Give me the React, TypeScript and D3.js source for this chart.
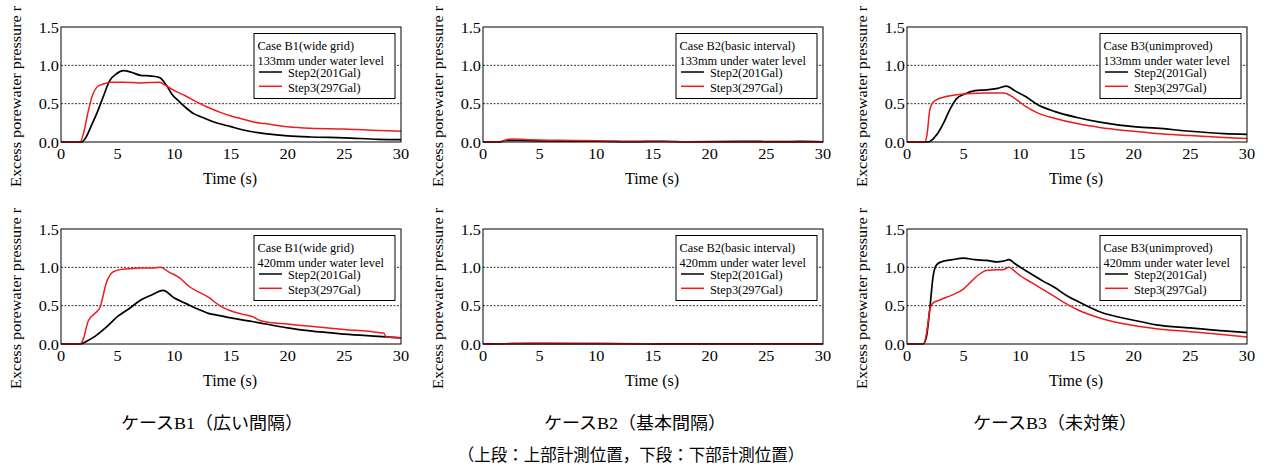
import React from "react";
import * as d3 from "d3";

// ---------- Data (time s, excess porewater pressure ratio) ----------
const xTicks = [0, 5, 10, 15, 20, 25, 30];
const yTicks = [0, 0.5, 1.0, 1.5];
const gridLevels = [0.5, 1.0];
const yTitle = "Excess porewater pressure r";
const seriesNames = ["Step2(201Gal)", "Step3(297Gal)"];
const seriesColors = ["#000000", "#ee1c1c"];
const caseTitles = ["Case B1(wide grid)", "Case B2(basic interval)", "Case B3(unimproved)"];
const depthLabels = ["133mm under water level", "420mm under water level"];
const captions = ["ケースB1（広い間隔）", "ケースB2（基本間隔）", "ケースB3（未対策）"];
const footnote = "（上段：上部計測位置，下段：下部計測位置）";

type Pt = [number, number];

const b1TopStep2: Pt[] = [
  [0, 0], [1.8, 0], [2.2, 0.06], [2.7, 0.22], [3.15, 0.37], [3.7, 0.58], [4.3, 0.8], [4.9, 0.89],
  [5.5, 0.93], [6.2, 0.91], [7, 0.87], [8, 0.86], [8.7, 0.84], [9.3, 0.74], [9.8, 0.62], [10.35, 0.54],
  [11, 0.45], [11.7, 0.37], [12.5, 0.32], [13.5, 0.26], [15, 0.2], [16, 0.16], [17, 0.13], [18, 0.11],
  [20, 0.08], [22, 0.065], [25, 0.055], [28, 0.035], [30, 0.03],
];
const b1TopStep3: Pt[] = [
  [0, 0], [1.68, 0], [2.0, 0.12], [2.4, 0.4], [2.8, 0.62], [3.2, 0.72], [3.8, 0.76], [4.4, 0.78],
  [5.5, 0.78], [7, 0.77], [8.7, 0.78], [9.2, 0.74], [10, 0.67], [11, 0.6], [12, 0.52], [13, 0.45],
  [14, 0.39], [15, 0.34], [16, 0.3], [17, 0.26], [18, 0.24], [20, 0.2], [22, 0.18], [25, 0.17],
  [28, 0.15], [30, 0.14],
];
const b1BotStep2: Pt[] = [
  [0, 0], [1.7, 0], [2.3, 0.04], [3, 0.1], [4, 0.22], [5, 0.36], [6, 0.46], [7, 0.57], [8, 0.64],
  [9, 0.7], [10, 0.6], [11, 0.53], [12, 0.46], [13, 0.4], [14, 0.37], [15, 0.34], [17, 0.29],
  [20, 0.21], [22, 0.17], [25, 0.13], [28, 0.1], [30, 0.08],
];
const b1BotStep3: Pt[] = [
  [0, 0], [1.7, 0], [2.0, 0.08], [2.4, 0.3], [3, 0.4], [3.45, 0.48], [4.0, 0.8], [4.6, 0.94],
  [5.2, 0.97], [6, 0.98], [7, 0.99], [8, 0.99], [8.8, 1.0], [9.5, 0.94], [10.5, 0.86], [11.3, 0.75],
  [12, 0.69], [13, 0.61], [14, 0.5], [15, 0.43], [16, 0.39], [17, 0.35], [17.5, 0.31], [18, 0.29],
  [20, 0.26], [22, 0.23], [25, 0.19], [28, 0.15], [28.5, 0.14], [28.7, 0.09], [30, 0.08],
];
const b2TopStep2: Pt[] = [
  [0, 0], [1.5, 0], [2, 0.02], [3, 0.02], [5, 0.015], [8, 0.01], [10, 0.01], [13, 0.005],
  [16, 0.01], [18, 0.003], [23, 0.01], [26, 0.004], [28, 0.008], [30, 0.003],
];
const b2TopStep3: Pt[] = [
  [0, 0], [1.1, 0], [1.8, 0.01], [2.2, 0.035], [2.6, 0.04], [3.2, 0.035], [5, 0.025], [8, 0.02],
  [10, 0.015], [12, 0.005], [15, 0.005], [20, 0.0], [25, 0.0], [30, 0.0],
];
const b2BotStep2: Pt[] = [
  [0, 0], [2, 0.003], [5, 0.005], [10, 0.004], [15, 0.002], [20, 0.001], [30, 0.001],
];
const b2BotStep3: Pt[] = [
  [0, 0], [1.8, 0.003], [3, 0.008], [6, 0.01], [10, 0.006], [15, 0.002], [20, 0.0], [30, 0.0],
];
const b3TopStep2: Pt[] = [
  [0, 0], [1.86, 0], [2.6, 0.09], [3.2, 0.24], [3.8, 0.43], [4.4, 0.57], [5, 0.62], [6, 0.67],
  [7, 0.68], [8, 0.7], [8.8, 0.73], [9.5, 0.67], [10.5, 0.59], [11.5, 0.49], [13, 0.4], [15, 0.32],
  [17, 0.26], [20, 0.2], [22, 0.18], [25, 0.14], [28, 0.11], [30, 0.1],
];
const b3TopStep3: Pt[] = [
  [0, 0], [1.56, 0], [1.77, 0.1], [2.0, 0.41], [2.3, 0.52], [2.9, 0.57], [4.07, 0.61], [5.25, 0.63],
  [7, 0.64], [8.5, 0.64], [8.8, 0.63], [9.5, 0.57], [10.5, 0.46], [11.5, 0.38], [13, 0.31],
  [15, 0.24], [17, 0.19], [20, 0.14], [22, 0.11], [25, 0.085], [28, 0.06], [30, 0.045],
];
const b3BotStep2: Pt[] = [
  [0, 0], [1.42, 0], [1.71, 0.09], [2.0, 0.44], [2.3, 0.88], [2.6, 1.03], [3, 1.07], [4, 1.1],
  [5, 1.12], [6, 1.1], [7, 1.09], [8, 1.07], [8.5, 1.08], [9, 1.1], [9.5, 1.05], [10, 1.0],
  [11, 0.91], [12, 0.82], [13, 0.74], [14, 0.64], [15, 0.56], [17, 0.42], [20, 0.31], [22, 0.25],
  [25, 0.21], [28, 0.17], [30, 0.15],
];
const b3BotStep3: Pt[] = [
  [0, 0], [1.45, 0], [1.77, 0.18], [2.0, 0.44], [2.26, 0.53], [3, 0.58], [4, 0.64], [5, 0.72],
  [5.7, 0.82], [6.3, 0.9], [7, 0.96], [8, 0.97], [8.5, 0.97], [9, 1.0], [9.5, 0.95], [10, 0.89],
  [11, 0.8], [12, 0.71], [13, 0.62], [14, 0.53], [15, 0.45], [17, 0.34], [20, 0.24], [22, 0.2],
  [25, 0.16], [28, 0.12], [30, 0.09],
];

const panelData: Pt[][][][] = [
  [[b1TopStep2, b1TopStep3], [b2TopStep2, b2TopStep3], [b3TopStep2, b3TopStep3]],
  [[b1BotStep2, b1BotStep3], [b2BotStep2, b2BotStep3], [b3BotStep2, b3BotStep3]],
];

// ---------- Layout ----------
const W = 1263;
const H = 474;
const plotLefts = [61, 483, 907];
const plotW = 340;
const rowTops = [27, 229];
const plotH = 115;
const FONT = "'Liberation Serif', 'Times New Roman', serif";
const CJK = "'Liberation Serif', 'Noto Sans CJK JP', serif";

// text with a horizontal stretch factor (the source figure uses wide/narrow faces)
const Txt: React.FC<{
  x: number;
  y: number;
  size: number;
  sx?: number;
  rotate?: number;
  anchor?: "start" | "middle" | "end";
  family?: string;
  children: React.ReactNode;
}> = ({ x, y, size, sx = 1, rotate = 0, anchor = "start", family = FONT, children }) => (
  <text
    transform={`translate(${x},${y})${rotate ? ` rotate(${rotate})` : ""} scale(${sx},1)`}
    textAnchor={anchor}
    fontFamily={family}
    fontSize={size}
    fill="#000"
  >
    {children}
  </text>
);

const Panel: React.FC<{ row: number; col: number }> = ({ row, col }) => {
  const left = plotLefts[col];
  const top = rowTops[row];
  const x = d3.scaleLinear().domain([0, 30]).range([left, left + plotW]);
  const y = d3.scaleLinear().domain([0, 1.5]).range([top + plotH, top]);
  const line = d3
    .line<Pt>()
    .x((d) => x(d[0]))
    .y((d) => y(d[1]))
    .curve(d3.curveMonotoneX);
  const plotClip = `pclip-${row}-${col}`;
  const lx = left + 193;
  const lw = 141;

  return (
    <g>
      <defs>
        <clipPath id={plotClip}>
          <rect x={left} y={top - 2} width={plotW} height={plotH + 3} />
        </clipPath>
      </defs>
      {/* y axis title (the source shows it cut after "r") */}
      <Txt x={left - 40} y={top + 160} size={15} sx={1.08} rotate={-90}>
        {yTitle}
      </Txt>
      {/* gridlines */}
      {gridLevels.map((g) => (
        <line
          key={g}
          x1={left}
          x2={left + plotW}
          y1={y(g)}
          y2={y(g)}
          stroke="#000"
          strokeWidth={0.8}
          strokeDasharray="2,1.5"
        />
      ))}
      {/* series */}
      <g clipPath={`url(#${plotClip})`}>
        {panelData[row][col].map((s, i) => (
          <path
            key={i}
            d={line(s) ?? ""}
            fill="none"
            stroke={seriesColors[i]}
            strokeWidth={i === 0 ? 1.7 : 1.5}
          />
        ))}
      </g>
      {/* frame */}
      <rect x={left} y={top} width={plotW} height={plotH} fill="none" stroke="#000" strokeWidth={1} />
      {/* tick labels */}
      {yTicks.map((t) => (
        <Txt key={t} x={left - 2} y={y(t) + 5.5} size={15.5} sx={1.05} anchor="end">
          {t.toFixed(1)}
        </Txt>
      ))}
      {xTicks.map((t) => (
        <Txt key={t} x={x(t)} y={top + plotH + 17} size={15.5} sx={1.05} anchor="middle">
          {t}
        </Txt>
      ))}
      <Txt x={left + plotW / 2 - 1} y={top + plotH + 42} size={16} anchor="middle">
        Time (s)
      </Txt>
      {/* legend */}
      <rect x={lx} y={top + 6.5} width={lw} height={65} fill="#fff" stroke="#000" strokeWidth={1} />
      <Txt x={lx + 3.5} y={top + 22.5} size={13} sx={0.95}>
        {caseTitles[col]}
      </Txt>
      <Txt x={lx + 3.5} y={top + 37.5} size={13} sx={0.95}>
        {depthLabels[row]}
      </Txt>
      {seriesNames.map((n, i) => (
        <g key={n}>
          <line
            x1={lx + 5}
            x2={lx + 28}
            y1={top + 45 + i * 14.3}
            y2={top + 45 + i * 14.3}
            stroke={seriesColors[i]}
            strokeWidth={1.5}
          />
          <Txt x={lx + 34} y={top + 50 + i * 14.5} size={13} sx={0.95}>
            {n}
          </Txt>
        </g>
      ))}
    </g>
  );
};

const captionX = [212, 635, 1055];

export default function App() {
  return (
    <svg
      width={W}
      height={H}
      style={{ position: "absolute", left: 0, top: 0, background: "#fff" }}
    >
      <rect width={W} height={H} fill="#fff" />
      {[0, 1].map((r) => [0, 1, 2].map((c) => <Panel key={`${r}-${c}`} row={r} col={c} />))}
      {captions.map((c, i) => (
        <Txt key={c} x={captionX[i]} y={429} size={17.5} sx={1.03} anchor="middle" family={CJK}>
          {c}
        </Txt>
      ))}
      <Txt x={631} y={461} size={16.5} anchor="middle" family={CJK}>
        {footnote}
      </Txt>
    </svg>
  );
}
